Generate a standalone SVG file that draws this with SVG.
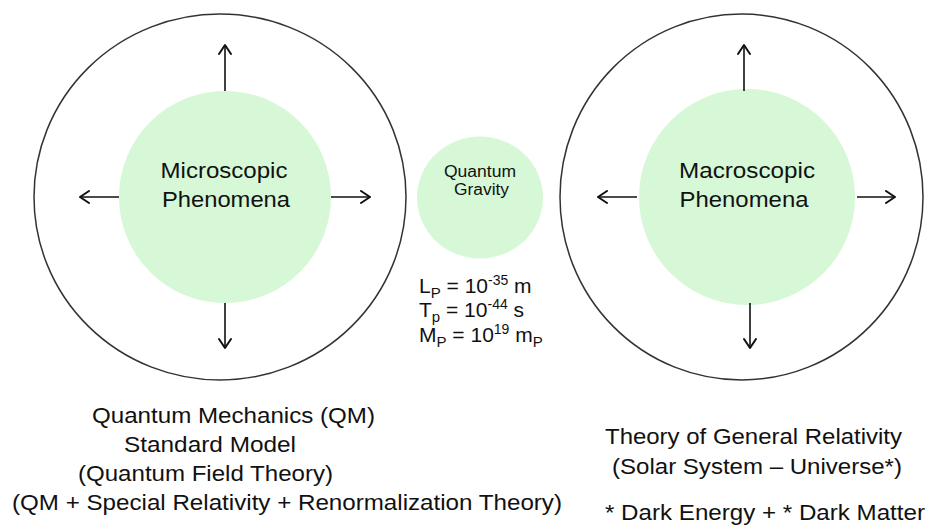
<svg xmlns="http://www.w3.org/2000/svg" width="927" height="528" viewBox="0 0 927 528">
<style>
.outer{fill:none;stroke:#333;stroke-width:1.5}
.inner{fill:#d6f8d6;stroke:none}
.lbl{font-family:"Liberation Sans",Arial,sans-serif;fill:#111}
.big{font-size:22px}
.mid{font-size:21px}
.arr{stroke:#111;stroke-width:1.6;fill:none;marker-end:url(#ah)}
</style>
<defs>
<marker id="ah" markerUnits="userSpaceOnUse" markerWidth="14" markerHeight="14" viewBox="-12 -7 14 14" refX="0" refY="0" orient="auto">
<path d="M-9,-6 L0,0 L-9,6" fill="none" stroke="#111" stroke-width="2" stroke-linecap="round" stroke-linejoin="round"/>
</marker>
</defs>
<rect width="927" height="528" fill="#fff"/>
<g id="micro-outer"><ellipse class="outer" cx="220" cy="197" rx="186" ry="183"/></g>
<g id="micro">
<circle class="inner" cx="225" cy="197" r="106"/>
<text class="lbl big" text-anchor="middle" x="224" y="178" textLength="127" lengthAdjust="spacingAndGlyphs">Microscopic</text>
<text class="lbl big" text-anchor="middle" x="226" y="207" textLength="128" lengthAdjust="spacingAndGlyphs">Phenomena</text>
</g>
<g id="macro-outer"><ellipse class="outer" cx="741.5" cy="197" rx="181.5" ry="183"/></g>
<g id="macro">
<circle class="inner" cx="747" cy="197" r="108"/>
<text class="lbl big" text-anchor="middle" x="747" y="178" textLength="136" lengthAdjust="spacingAndGlyphs">Macroscopic</text>
<text class="lbl big" text-anchor="middle" x="744" y="207" textLength="129" lengthAdjust="spacingAndGlyphs">Phenomena</text>
</g>
<g id="qg">
<ellipse class="inner" cx="480" cy="197.5" rx="63" ry="61"/>
<text class="lbl" font-size="16" text-anchor="middle" x="480" y="177" textLength="72" lengthAdjust="spacingAndGlyphs">Quantum</text>
<text class="lbl" font-size="16" text-anchor="middle" x="481.5" y="195" textLength="55" lengthAdjust="spacingAndGlyphs">Gravity</text>
</g>
<g id="planck">
<text class="lbl mid" x="419" y="293">L<tspan font-size="15" dy="5">P</tspan><tspan dy="-5"> = 10</tspan><tspan font-size="14" dy="-8">-35</tspan><tspan dy="8"> m</tspan></text>
<text class="lbl mid" x="419" y="317">T<tspan font-size="15" dy="5">p</tspan><tspan dy="-5"> = 10</tspan><tspan font-size="14" dy="-8">-44</tspan><tspan dy="8"> s</tspan></text>
<text class="lbl mid" x="419" y="342">M<tspan font-size="15" dy="5">P</tspan><tspan dy="-5"> = 10</tspan><tspan font-size="14" dy="-8">19</tspan><tspan dy="8"> m</tspan><tspan font-size="15" dy="5">P</tspan></text>
</g>
<g id="connectors">
<line class="arr" x1="225" y1="91" x2="225" y2="45"/>
<line class="arr" x1="225" y1="303" x2="225" y2="348"/>
<line class="arr" x1="119" y1="197" x2="80" y2="197"/>
<line class="arr" x1="331" y1="197" x2="370" y2="197"/>
<line class="arr" x1="744" y1="91" x2="744" y2="45"/>
<line class="arr" x1="750" y1="303" x2="750" y2="348"/>
<line class="arr" x1="637" y1="197" x2="598" y2="197"/>
<line class="arr" x1="857" y1="197" x2="895" y2="197"/>
</g>
<g id="left-text">
<text class="lbl big" text-anchor="middle" x="233.5" y="423" textLength="283" lengthAdjust="spacingAndGlyphs">Quantum Mechanics (QM)</text>
<text class="lbl big" text-anchor="middle" x="210" y="452" textLength="172" lengthAdjust="spacingAndGlyphs">Standard Model</text>
<text class="lbl big" text-anchor="middle" x="205.5" y="481" textLength="255" lengthAdjust="spacingAndGlyphs">(Quantum Field Theory)</text>
<text class="lbl big" text-anchor="middle" x="287" y="510" textLength="550" lengthAdjust="spacingAndGlyphs">(QM + Special Relativity + Renormalization Theory)</text>
</g>
<g id="right-text">
<text class="lbl big" x="605" y="444" textLength="297" lengthAdjust="spacingAndGlyphs">Theory of General Relativity</text>
<text class="lbl big" x="612" y="474" textLength="290" lengthAdjust="spacingAndGlyphs">(Solar System – Universe*)</text>
<text class="lbl big" x="605" y="520" textLength="320" lengthAdjust="spacingAndGlyphs">* Dark Energy + * Dark Matter</text>
</g>
</svg>
